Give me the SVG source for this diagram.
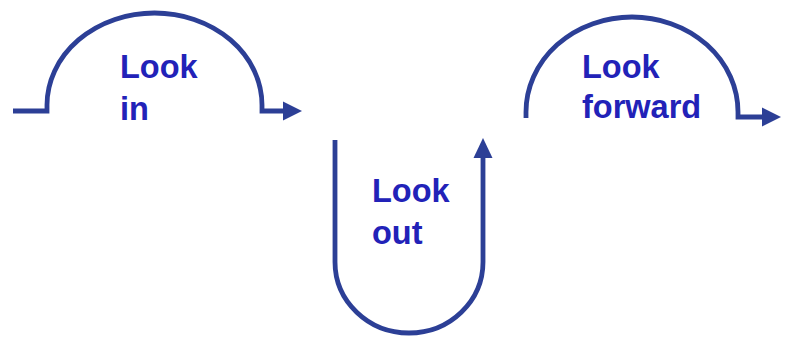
<svg xmlns="http://www.w3.org/2000/svg" width="786" height="342" viewBox="0 0 786 342">
<style>
.c{fill:none;stroke:#2c3f96;stroke-width:4.8;stroke-linejoin:miter}
.h{fill:#2c3f96}
.t{font-family:"Liberation Sans",Arial,sans-serif;font-weight:bold;font-size:32.5px;fill:#2222b8}
</style>
<rect width="786" height="342" fill="#fff"/>
<g id="connectors">
<path class="c" d="M13,111 H47 V105 A107.5,92 0 0 1 262,105 V111 H285"/>
<polygon class="h" points="283,101.5 302,111 283,120.5"/>
<path class="c" d="M335,140 V262 A74,71 0 0 0 483,262 V156"/>
<polygon class="h" points="473.5,158 483,138 492.5,158"/>
<path class="c" d="M526,118 V112 A106,95 0 0 1 738,112 V117 H764"/>
<polygon class="h" points="762,107.5 781,117 762,126.5"/>
</g>
<g id="look-in"><text class="t" x="120" y="78">Look</text><text class="t" x="120" y="120">in</text></g>
<g id="look-out"><text class="t" x="372" y="202">Look</text><text class="t" x="372" y="244">out</text></g>
<g id="look-forward"><text class="t" x="582" y="78">Look</text><text class="t" x="582" y="118">forward</text></g>
</svg>
